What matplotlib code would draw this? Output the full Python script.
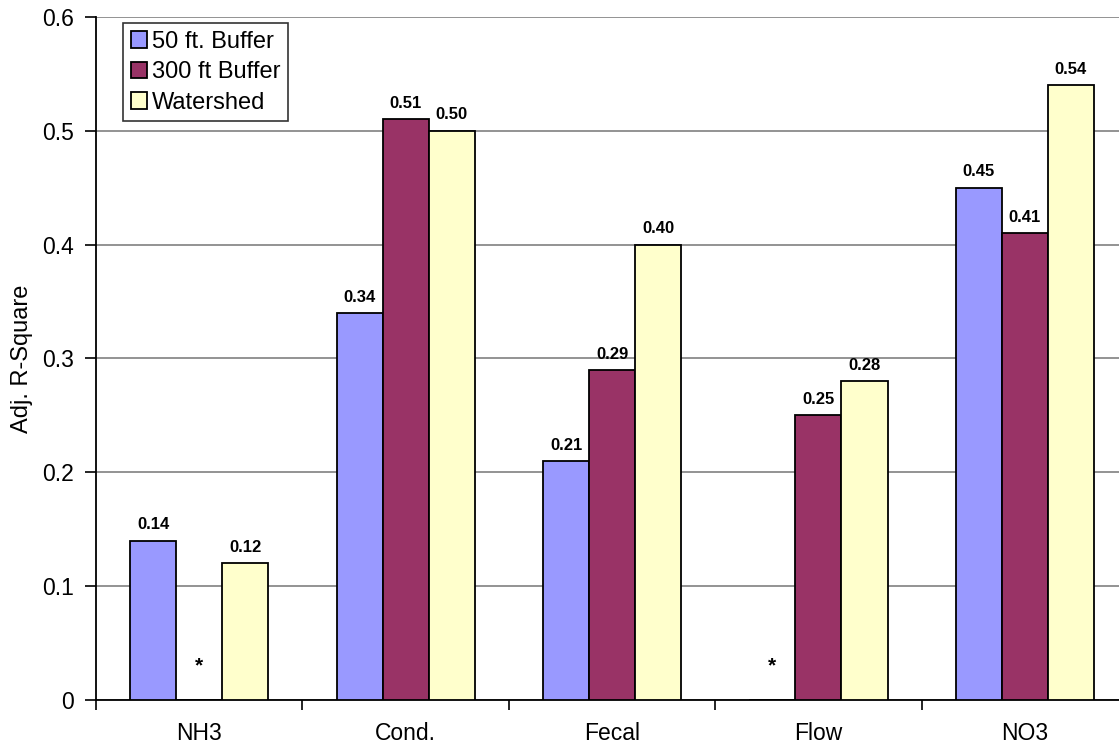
import numpy as np
import matplotlib.pyplot as plt
from matplotlib.ticker import FixedLocator, FuncFormatter

plt.rcParams['font.family'] = ['Liberation Sans', 'DejaVu Sans']

params = ['NH3', 'Cond.', 'Fecal', 'Flow', 'NO3']
series = ['50 ft. Buffer', '300 ft Buffer', 'Watershed']
# nan = no significant model (marked with *)
buf50 = [0.14, 0.34, 0.21, np.nan, 0.45]
buf300 = [np.nan, 0.51, 0.29, 0.25, 0.41]
watershed = [0.12, 0.50, 0.40, 0.28, 0.54]
colors = ['#9999FF', '#993366', '#FFFFCC']

fig = plt.figure(figsize=(11.19, 7.45), dpi=100)
ax = fig.add_axes([96 / 1119, 45 / 745, 1 - 96 / 1119, 683 / 745])

x = np.arange(len(params))
w = 0.223
for i, (vals, name, c) in enumerate(zip([buf50, buf300, watershed], series, colors)):
    pos = x + (i - 1) * w
    v = np.array(vals)
    ax.bar(pos, np.nan_to_num(v), w, color=c, edgecolor='black', linewidth=1.3,
           label=name, zorder=3)
    for p, val in zip(pos, v):
        if np.isnan(val):
            ax.text(p, 0.03, '*', ha='center', va='center', fontsize=15,
                    fontweight='bold')
        else:
            ax.annotate(f'{val:.2f}', (p, val), xytext=(0, 6),
                        textcoords='offset points', ha='center', va='bottom',
                        fontsize=12, fontweight='bold')

ax.set_ylim(0, 0.6)
ax.set_xlim(-0.5, 4.456)
ax.set_yticks(np.arange(0, 0.61, 0.1))
ax.yaxis.set_major_formatter(FuncFormatter(lambda v, _: '0' if v == 0 else f'{v:.1f}'))
ax.yaxis.grid(True, color='#808080', linewidth=1.2, zorder=0)
ax.set_xticks(x)
ax.set_xticklabels(params)
ax.xaxis.set_minor_locator(FixedLocator(np.arange(-0.5, 5, 1)))
ax.tick_params(axis='x', which='major', length=0, pad=16, labelsize=16.5)
ax.tick_params(axis='x', which='minor', length=7, width=1.2, direction='out')
ax.tick_params(axis='y', length=8, width=1.2, labelsize=16.5, pad=8)
for s in ['top', 'right']:
    ax.spines[s].set_visible(False)
for s in ['left', 'bottom']:
    ax.spines[s].set_linewidth(1.3)
ax.set_ylabel('Adj. R-Square', fontsize=17)
ax.yaxis.set_label_coords(-63 / 1023, 0.5)

leg = ax.legend(loc='upper left', bbox_to_anchor=(27 / 1023, 1 - 6 / 683), fontsize=17,
                frameon=True, fancybox=False, edgecolor='black',
                handlelength=0.7, handleheight=0.7, handletextpad=0.2,
                labelspacing=0.36, borderpad=0.32, borderaxespad=0)
leg.get_frame().set_linewidth(1.2)
leg.set_zorder(5)

fig.savefig('out.png', dpi=100)
